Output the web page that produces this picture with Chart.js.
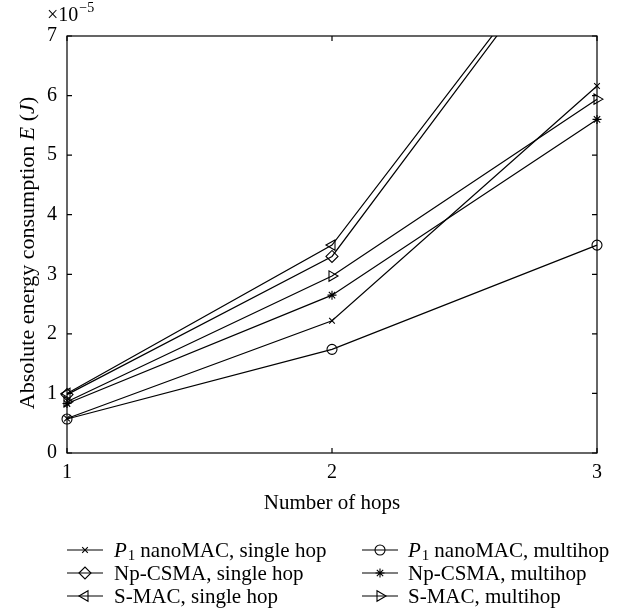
<!DOCTYPE html>
<html>
<head>
<meta charset="utf-8">
<script src="https://cdn.jsdelivr.net/npm/chart.js@4/dist/chart.umd.min.js"></script>
<style>
  body { margin: 0; background: #fff; }
  #box { width: 629px; height: 610px; }
</style>
</head>
<body>
<div id="box"><canvas id="grafico"></canvas></div>
<script>
// Dados (energia em unidades de 1e-5 J)
const hops = [1, 2, 3];
const yTicks = [0, 1, 2, 3, 4, 5, 6, 7];
const p1Single = [0.58, 2.22, 6.16];
const p1Multi = [0.57, 1.74, 3.49];
const npSingle = [0.98, 3.30, 9.25];
const npMulti = [0.83, 2.65, 5.60];
const smacSingle = [1.00, 3.49, 9.30];
const smacMulti = [0.86, 2.97, 5.94];

const serie = (nome, valores, estilo, rot, raio) => ({
    label: nome,
    data: hops.map((h, i) => ({ x: h, y: valores[i] })),
    borderColor: '#000',
    borderWidth: 1.2,
    pointStyle: estilo,
    pointRotation: rot,
    pointRadius: raio,
    pointBorderWidth: 1.1,
    pointBorderColor: '#000',
    pointBackgroundColor: 'rgba(0,0,0,0)',
    tension: 0,
    // corta as linhas no topo, mas deixa os marcadores das bordas inteiros
    clip: { left: 10, right: 10, top: 0, bottom: 10 }
});

const datasets = [
    serie('nanoMAC, single hop', p1Single, 'crossRot', 0, 4),
    serie('nanoMAC, multihop', p1Multi, 'circle', 0, 5),
    serie('Np-CSMA, single hop', npSingle, 'rectRot', 0, 6),
    serie('Np-CSMA, multihop', npMulti, 'star', 0, 4.5),
    serie('S-MAC, single hop', smacSingle, 'triangle', -90, 6),
    serie('S-MAC, multihop', smacMulti, 'triangle', 90, 6)
];
// quais itens da legenda levam "P1" antes do nome
const comP1 = [true, true, false, false, false, false];

const FONTE = '"Liberation Serif", "DejaVu Serif", serif';

// Caixa, marcas dos eixos e textos (título do eixo y, legenda)
const extras = {
    id: 'extras',
    afterDraw(chart) {
        const ctx = chart.ctx;
        const a = chart.chartArea;
        const sx = chart.scales.x, sy = chart.scales.y;
        ctx.save();
        ctx.strokeStyle = '#000';
        ctx.lineWidth = 1.2;
        ctx.strokeRect(a.left, a.top, a.right - a.left, a.bottom - a.top);

        // ticks para dentro
        ctx.beginPath();
        yTicks.forEach(v => {
            const y = sy.getPixelForValue(v);
            ctx.moveTo(a.left, y); ctx.lineTo(a.left + 5, y);
            ctx.moveTo(a.right, y); ctx.lineTo(a.right - 5, y);
        });
        hops.forEach(h => {
            const x = sx.getPixelForValue(h);
            ctx.moveTo(x, a.bottom); ctx.lineTo(x, a.bottom - 5);
            ctx.moveTo(x, a.top); ctx.lineTo(x, a.top + 5);
        });
        ctx.stroke();

        ctx.fillStyle = '#000';
        ctx.textBaseline = 'alphabetic';

        // multiplicador x10^-5
        ctx.font = '20px ' + FONTE;
        ctx.textAlign = 'left';
        ctx.fillText('\u00d710', 47, 21);
        const w10 = ctx.measureText('\u00d710').width;
        ctx.font = '14px ' + FONTE;
        ctx.fillText('\u22125', 47 + w10 + 1, 12);

        // título do eixo x
        ctx.font = '21px ' + FONTE;
        ctx.textAlign = 'center';
        ctx.fillText('Number of hops', (a.left + a.right) / 2, 509);

        // título do eixo y (com E e J em itálico)
        const partes = [
            ['Absolute energy consumption ', ''],
            ['E', 'italic '],
            [' (', ''],
            ['J', 'italic '],
            [')', '']
        ];
        ctx.translate(34, 253);
        ctx.rotate(-Math.PI / 2);
        let total = 0;
        partes.forEach(p => { ctx.font = p[1] + '22px ' + FONTE; total += ctx.measureText(p[0]).width; });
        let px = -total / 2;
        ctx.textAlign = 'left';
        partes.forEach(p => {
            ctx.font = p[1] + '22px ' + FONTE;
            ctx.fillText(p[0], px, 0);
            px += ctx.measureText(p[0]).width;
        });
        ctx.setTransform(1, 0, 0, 1, 0, 0);

        // legenda em duas colunas
        const colunas = [{ l0: 67, tx: 114 }, { l0: 362, tx: 408 }];
        const linhas = [550, 573, 596];
        chart.data.datasets.forEach((ds, i) => {
            const c = colunas[i % 2];
            const yl = linhas[Math.floor(i / 2)];
            ctx.lineWidth = 1.2;
            ctx.strokeStyle = '#000';
            ctx.beginPath();
            ctx.moveTo(c.l0, yl); ctx.lineTo(c.l0 + 36, yl);
            ctx.stroke();
            ctx.fillStyle = 'rgba(0,0,0,0)';
            ctx.lineWidth = 1.1;
            Chart.helpers.drawPoint(ctx, {
                pointStyle: ds.pointStyle,
                rotation: ds.pointRotation,
                radius: ds.pointRadius,
                borderWidth: 1.1
            }, c.l0 + 18, yl);

            ctx.fillStyle = '#000';
            let x = c.tx;
            const base = yl + 7;
            if (comP1[i]) {
                ctx.font = 'italic 21px ' + FONTE;
                ctx.fillText('P', x, base);
                x += ctx.measureText('P').width + 1;
                ctx.font = '15px ' + FONTE;
                ctx.fillText('1', x, base + 3);
                x += ctx.measureText('1').width + 5;
            }
            ctx.font = '21px ' + FONTE;
            ctx.fillText(ds.label, x, base);
        });
        ctx.restore();
    }
};

new Chart(document.getElementById('grafico'), {
    type: 'line',
    data: { datasets },
    options: {
        responsive: true,
        maintainAspectRatio: false,
        animation: false,
        layout: { padding: { left: 0, top: 36, right: 32, bottom: 0 } },
        plugins: { legend: { display: false }, tooltip: { enabled: false } },
        scales: {
            x: {
                type: 'linear', min: 1, max: 3,
                grid: { display: false, drawTicks: false },
                border: { display: false },
                ticks: { stepSize: 1, color: '#000', padding: 8, font: { family: FONTE, size: 20 } },
                afterFit: s => { s.height = 157; }
            },
            y: {
                min: 0, max: 7,
                grid: { display: false, drawTicks: false },
                border: { display: false },
                ticks: { stepSize: 1, color: '#000', padding: 10, font: { family: FONTE, size: 20 } },
                afterFit: s => { s.width = 67; }
            }
        }
    },
    plugins: [extras]
});
</script>
</body>
</html>
